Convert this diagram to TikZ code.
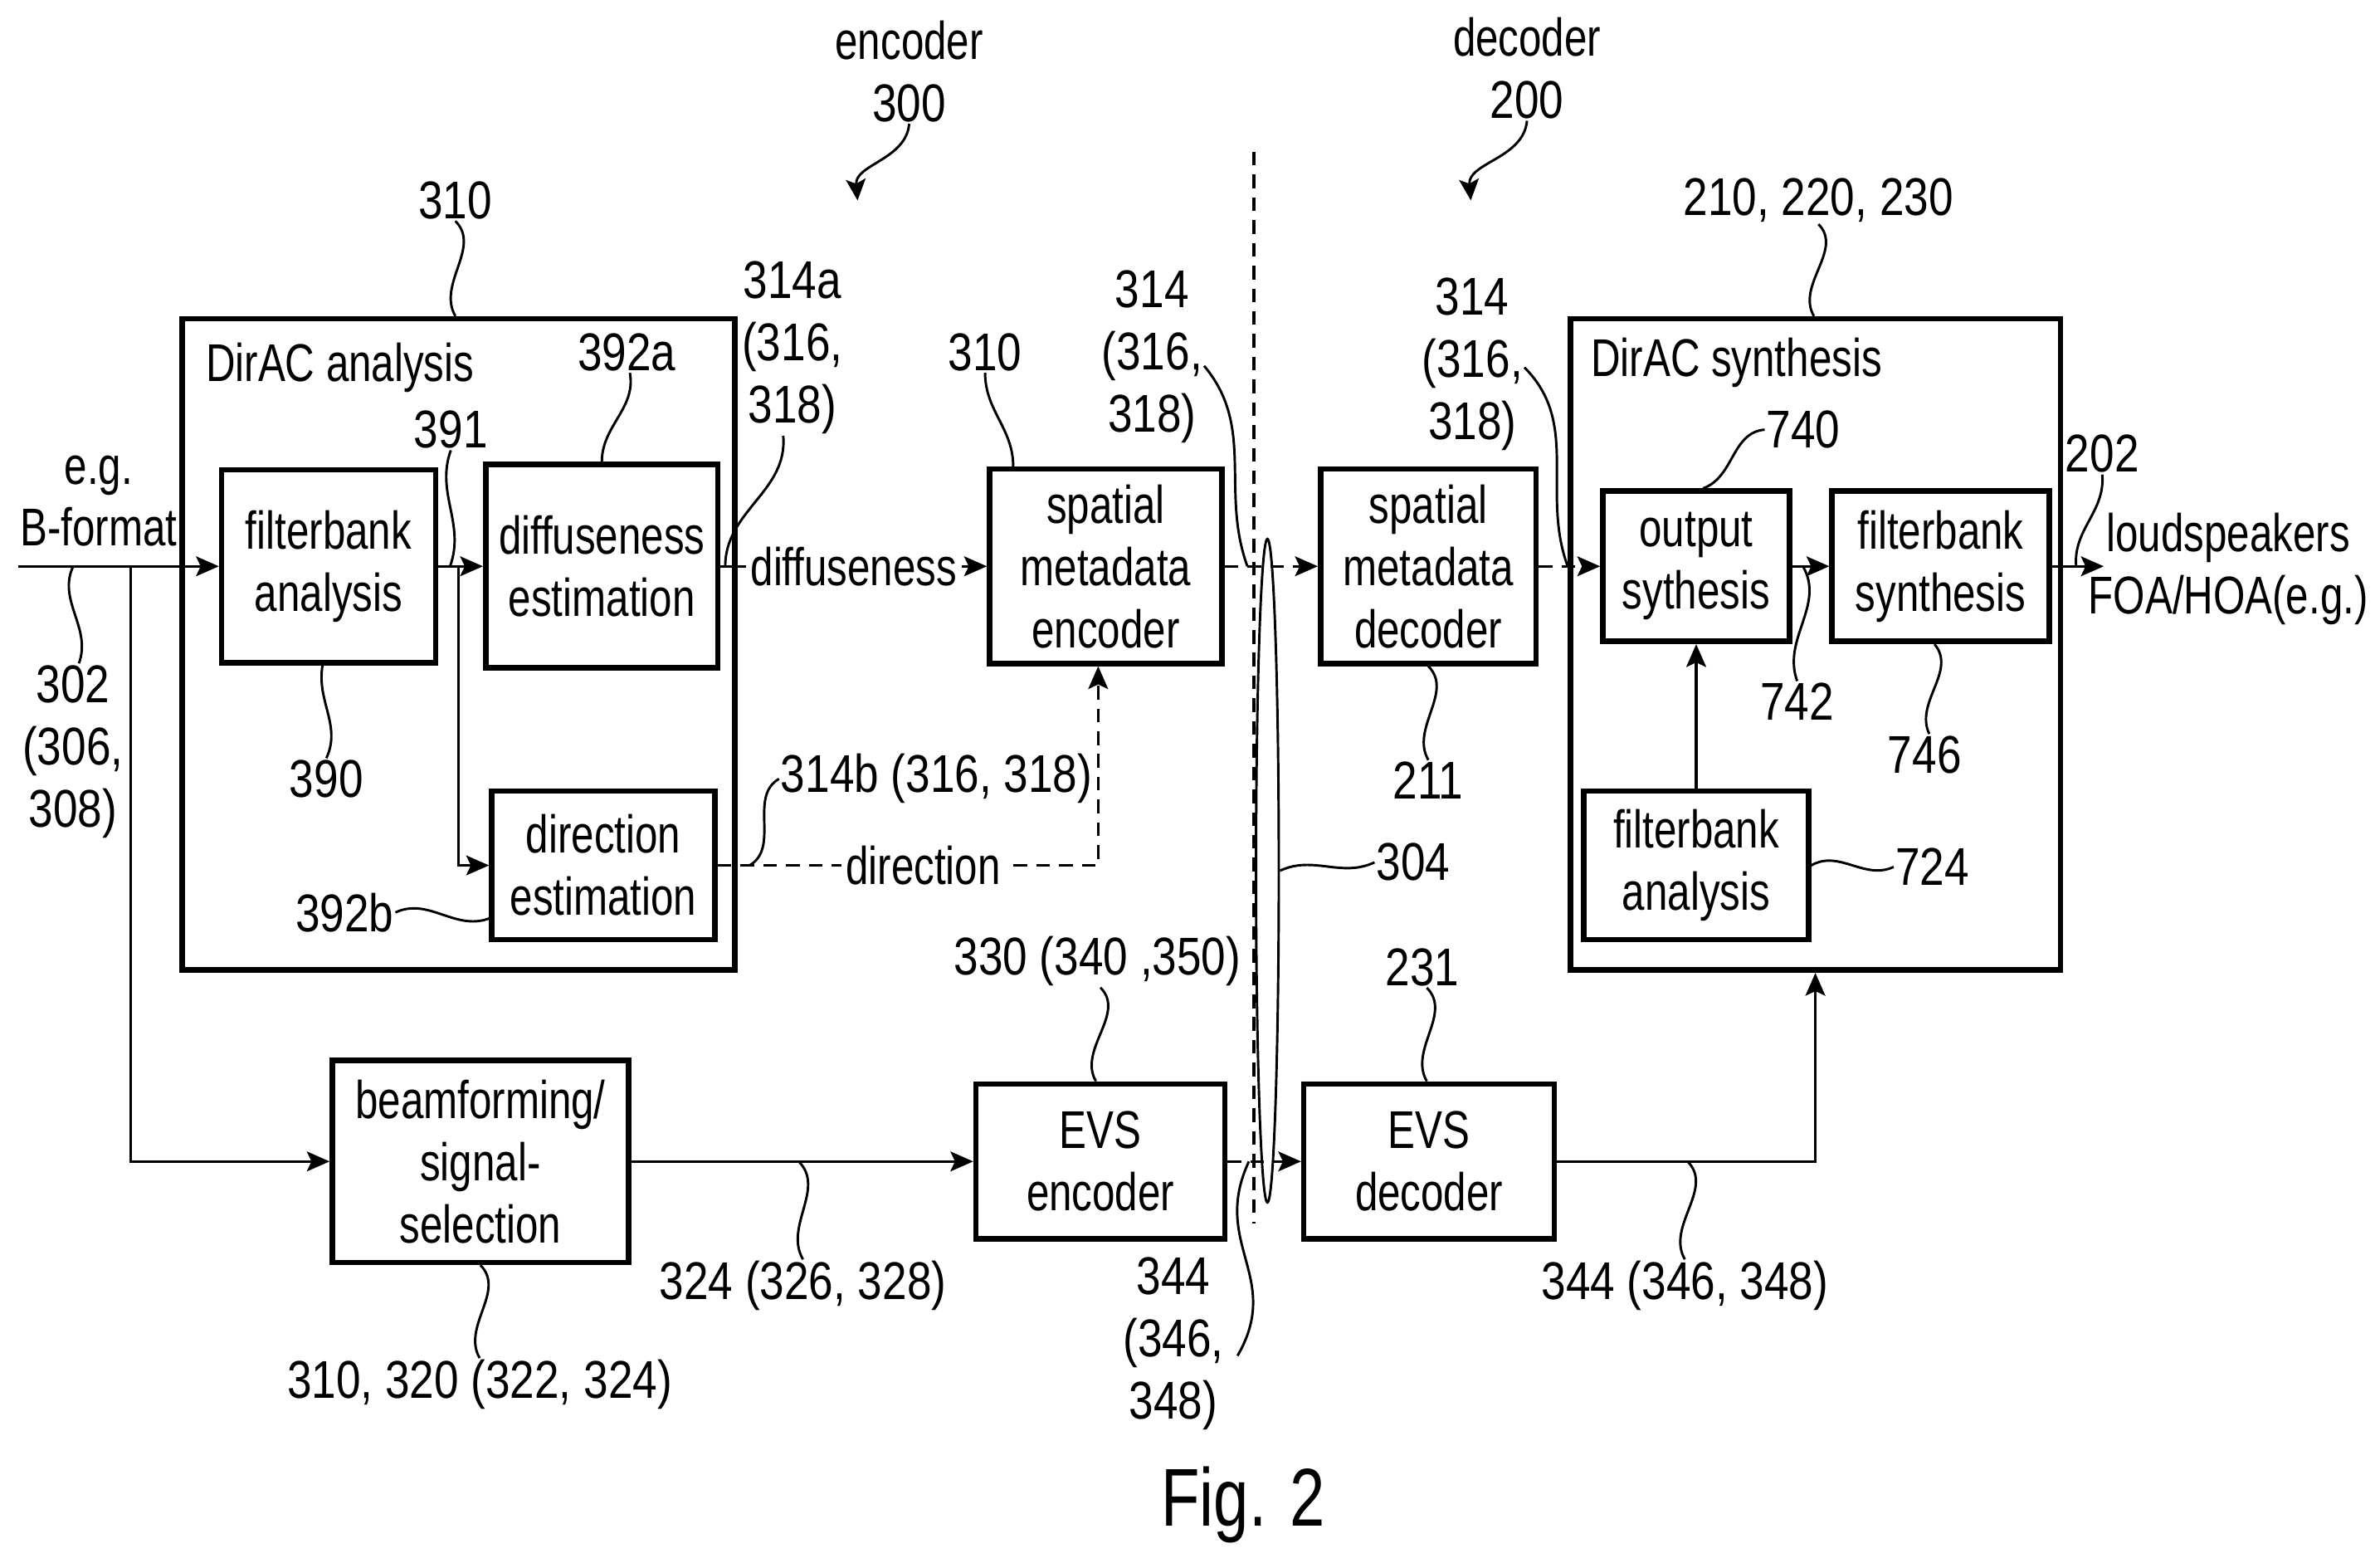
\documentclass[tikz,border=0pt]{standalone}
\usepackage{fontspec}
\setmainfont[FakeStretch=0.77]{Liberation Sans}
\newfontfamily\numfont[FakeStretch=0.83]{Liberation Sans}
\usetikzlibrary{arrows.meta,shapes.geometric}
\tikzset{
  sigblock/.style={draw, rectangle, line width=3.6pt},
  sigwire/.style={line width=1.9pt, >={Stealth[length=15pt,width=13pt,inset=3pt]}},
  sigdash/.style={sigwire, dash pattern=on 9pt off 6pt},
  refline/.style={line width=1.6pt, >={Stealth[length=14pt,width=13pt,inset=3pt]}},
  refnum/.style={font=\fontsize{35}{41}\numfont},
  gap/.style={fill=white, inner sep=3pt}
}

\begin{document}
\begin{tikzpicture}[x=1pt,y=1pt,every node/.style={font=\fontsize{35}{41}\selectfont, align=center, inner sep=1pt}]
    \useasboundingbox (0,0) rectangle (1568,1026);
    % encoder side
    \node[sigblock, minimum width=364pt, minimum height=429pt] (analysis) at (302,601.5) {};
    \node (analysistxt) at (224,784) {DirAC analysis};
    \node[sigblock, minimum width=141pt, minimum height=127pt] (fbank) at (216.5,653) {filterbank\\analysis};
    \node[sigblock, minimum width=153pt, minimum height=134pt] (diff) at (396.5,653) {diffuseness\\estimation};
    \node[sigblock, minimum width=147pt, minimum height=98pt] (dir) at (397.5,456) {direction\\estimation};
    \node[sigblock, minimum width=153pt, minimum height=128pt] (smenc) at (728.5,653) {spatial\\metadata\\encoder};
    \node[sigblock, minimum width=195pt, minimum height=133pt] (beam) at (316.5,261) {beamforming/\\signal-\\selection};
    \node[sigblock, minimum width=164pt, minimum height=102pt] (evsenc) at (725,261) {EVS\\encoder};
    % decoder side
    \node[sigblock, minimum width=323pt, minimum height=429pt] (synthesis) at (1196,601.5) {};
    \node (synthesistxt) at (1144,787) {DirAC synthesis};
    \node[sigblock, minimum width=142pt, minimum height=128pt] (smdec) at (941,653) {spatial\\metadata\\decoder};
    \node[sigblock, minimum width=123pt, minimum height=99pt] (outsyn) at (1117.5,653) {output\\sythesis};
    \node[sigblock, minimum width=143pt, minimum height=99pt] (fbsyn) at (1278.5,653) {filterbank\\synthesis};
    \node[sigblock, minimum width=148pt, minimum height=98pt] (fban) at (1117.5,456) {filterbank\\analysis};
    \node[sigblock, minimum width=165pt, minimum height=102pt] (evsdec) at (941.5,261) {EVS\\decoder};

    \coordinate (in) at (12,653);
    \coordinate (split) at (86,653);
    \coordinate (tap) at (302,653);
    \coordinate (out) at (1386,653);
    \coordinate (cuttop) at (826,926);
    \coordinate (cutbot) at (826,220);
    \coordinate (pt300) at (565,894);
    \coordinate (pt200) at (969,894);

    \draw[sigwire,->] (in) -- (fbank.west);
    \draw[sigwire,->] (split) |- (beam.west);
    \draw[sigwire,->] (fbank) -- (diff);
    \draw[sigwire,->] (tap) |- (dir.west);
    \draw[sigwire,->] (diff) -- (smenc) node[midway,gap]{diffuseness};
    \draw[sigdash,->] (dir.east) -| ([xshift=-5pt]smenc.south) node[pos=.27,gap]{direction};
    \draw[sigdash,->] (smenc) -- (smdec);
    \draw[sigdash,->] (smdec) -- (outsyn);
    \draw[sigwire,->] (outsyn) -- (fbsyn);
    \draw[sigwire,->] (fbsyn) -- (out);
    \draw[sigwire,->] (fban) -- (outsyn);
    \draw[sigwire,->] (beam) -- (evsenc);
    \draw[sigdash,->] (evsenc) -- (evsdec);
    \draw[sigwire,->] (evsdec.east) -| (synthesis.south);
    \draw[sigdash,line width=2.3pt] (cuttop) -- (cutbot);
    \node[draw, ellipse, line width=1.6pt, minimum width=15pt, minimum height=437pt, inner sep=0pt] (bundle) at (835,452.5) {};

    % reference numerals
    \node (enc) at (599,979) {encoder\\\numfont 300};
    \node (dec) at (1006,981) {decoder\\\numfont 200};
    \node[refnum] (r310a) at (300,894) {310};
    \node[refnum] (r392a) at (413,794) {392a};
    \node[refnum] (r391) at (297,743) {391};
    \node (eg) at (65,696) {e.g.\\B-format};
    \node[refnum] (r302) at (48,531) {302\\(306,\\308)};
    \node[refnum] (r390) at (215,513) {390};
    \node[refnum] (r392b) at (227,425) {392b};
    \node[refnum] (r314a) at (522,797) {314a\\(316,\\318)};
    \node[refnum] (r314b) at (617,513) {314b (316, 318)};
    \node[refnum] (r310b) at (649,794) {310};
    \node[refnum] (r314c) at (759,791) {314\\(316,\\318)};
    \node[refnum] (r314d) at (970,786) {314\\(316,\\318)};
    \node[refnum] (r210) at (1198,894) {210, 220, 230};
    \node[refnum] (r740) at (1188,743) {740};
    \node[refnum] (r202) at (1385,727) {202};
    \node (spk) at (1468,651) {loudspeakers\\FOA/HOA(e.g.)};
    \node[refnum] (r742) at (1184,564) {742};
    \node[refnum] (r746) at (1268,529) {746};
    \node[refnum] (r724) at (1273,455) {724};
    \node[refnum] (r211) at (941,512) {211};
    \node[refnum] (r304) at (931,458) {304};
    \node[refnum] (r231) at (937,389) {231};
    \node[refnum] (r330) at (723,393) {330 (340 ,350)};
    \node[refnum] (r324) at (529,179) {324 (326, 328)};
    \node[refnum] (r344a) at (773,141) {344\\(346,\\348)};
    \node[refnum] (r344b) at (1110,179) {344 (346, 348)};
    \node[refnum] (r310c) at (316,114) {310, 320 (322, 324)};
    \node[font=\fontsize{54}{60}\selectfont] (fig) at (819,35) {Fig. 2};

    \draw[refline,->] (enc.south) to[out=-95,in=95] (pt300);
    \draw[refline,->] (dec.south) to[out=-95,in=95] (pt200);
    \draw[refline] (r310a.south) to[out=-45,in=120] ([xshift=-2pt]analysis.north);
    \draw[refline] ([xshift=2pt]r392a.south) to[out=-80,in=90] (diff.north);
    \draw[refline] (r391.south) to[out=-110,in=70] ([xshift=80pt]fbank.center);
    \draw[refline] ([xshift=-70pt]analysis.west) ++(0,51.5) to[out=-115,in=70] ([xshift=4pt]r302.north);
    \draw[refline] ([xshift=-4pt]fbank.south) to[out=-100,in=65] (r390.north);
    \draw[refline] (r392b.east) to[out=25,in=200] ([yshift=-35pt]dir.west);
    \draw[refline] ([xshift=-6pt]r314a.south) to[out=-85,in=90] ([xshift=3pt]diff.east);
    \draw[refline] (r314b.west) to[out=210,in=30] ([xshift=21pt]dir.east);
    \draw[refline] (r310b.south) to[out=-90,in=90] ([xshift=-61pt]smenc.north);
    \draw[refline] ([yshift=-6pt]r314c.east) to[out=-50,in=110] ([xshift=15pt]smenc.east);
    \draw[refline] ([yshift=-2pt]r314d.east) to[out=-45,in=110] ([xshift=19pt]smdec.east);
    \draw[refline] (r210.south) to[out=-45,in=120] ([xshift=-1pt]synthesis.north);
    \draw[refline] (r740.west) to[out=185,in=20] ([xshift=4.5pt]outsyn.north);
    \draw[refline] (r202.south) to[out=-85,in=95] ([xshift=16pt]fbsyn.east);
    \draw[refline] ([xshift=7pt]outsyn.east) to[out=-60,in=110] (r742.north);
    \draw[refline] ([xshift=-4pt]fbsyn.south) to[out=-50,in=115] ([xshift=3pt]r746.north);
    \draw[refline] (fban.east) to[out=30,in=205] (r724.west);
    \draw[refline] (smdec.south) to[out=-45,in=120] (r211.north);
    \draw[refline] (bundle.east) to[out=25,in=205] (r304.west);
    \draw[refline] ([xshift=3pt]r231.south) to[out=-45,in=120] ([xshift=-1.5pt]evsdec.north);
    \draw[refline] ([xshift=2pt]r330.south) to[out=-45,in=120] ([xshift=-3pt]evsenc.north);
    \draw[refline] ([xshift=-115pt]evsenc.west) to[out=-45,in=120] (r324.north);
    \draw[refline] ([xshift=14pt]evsenc.east) to[out=-115,in=60,looseness=1.2] ([xshift=8pt,yshift=-8pt]r344a.east);
    \draw[refline] ([xshift=86pt]evsdec.east) to[out=-45,in=120] (r344b.north);
    \draw[refline] (beam.south) to[out=-45,in=120] (r310c.north);
\end{tikzpicture}
\end{document}
